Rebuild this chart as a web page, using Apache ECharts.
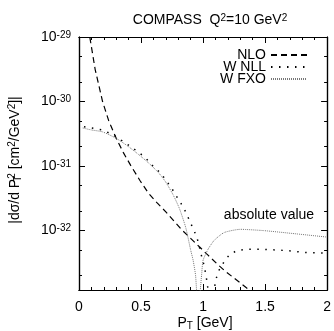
<!DOCTYPE html>
<html><head><meta charset="utf-8">
<script src="https://cdn.jsdelivr.net/npm/echarts@6/dist/echarts.min.js"></script>
<style>html,body{margin:0;padding:0;background:#fff}#c{width:334px;height:331px}</style>
</head><body><div id="c"></div>
<script>
// P_T [GeV]
const nloX = [0.06, 0.087, 0.13, 0.19, 0.24, 0.30, 0.36, 0.42, 0.49, 0.56, 0.63, 0.70, 0.77, 0.83, 0.90, 0.97, 1.04, 1.11, 1.18, 1.26, 1.36, 1.45];
// log10 of |dσ/dP_T^2| in cm^2/GeV^2
const nloLog = [-28.7, -29.0, -29.5, -30.0, -30.3, -30.57, -30.8, -31.0, -31.22, -31.42, -31.57, -31.71, -31.86, -31.99, -32.12, -32.25, -32.38, -32.51, -32.63, -32.75, -32.9, -33.04];

const nllX = [0.04, 0.13, 0.19, 0.28, 0.38, 0.44, 0.51, 0.56, 0.60, 0.66, 0.70, 0.74, 0.78, 0.82, 0.86, 0.89, 0.92, 0.95, 0.97, 0.99, 1.01, 1.03, 1.05, 1.065, 1.08, 1.106, 1.13, 1.17, 1.21, 1.27, 1.34, 1.49, 1.68, 1.83, 2.0];
const nllLog = [-30.39, -30.42, -30.44, -30.52, -30.65, -30.73, -30.83, -30.92, -31.01, -31.11, -31.22, -31.32, -31.45, -31.57, -31.71, -31.84, -31.97, -32.1, -32.25, -32.41, -32.55, -32.77, -33.05, -33.6, -33.0, -32.74, -32.61, -32.48, -32.38, -32.31, -32.29, -32.29, -32.31, -32.34, -32.35];

const fxoX = [0.03, 0.1, 0.19, 0.30, 0.40, 0.48, 0.56, 0.64, 0.70, 0.76, 0.81, 0.86, 0.90, 0.92, 0.94, 0.955, 0.965, 0.975, 0.99, 1.0, 1.04, 1.09, 1.17, 1.30, 1.49, 1.75, 2.0];
const fxoLog = [-30.41, -30.44, -30.47, -30.57, -30.7, -30.82, -30.95, -31.1, -31.25, -31.45, -31.66, -31.95, -32.3, -32.46, -32.7, -33.2, -33.6, -33.0, -32.65, -32.46, -32.29, -32.15, -32.03, -31.98, -32.0, -32.05, -32.1];

const xTicks = [0, 0.5, 1, 1.5, 2];
const xMinor = [0.1, 0.2, 0.3, 0.4, 0.6, 0.7, 0.8, 0.9, 1.1, 1.2, 1.3, 1.4, 1.6, 1.7, 1.8, 1.9];
const yMajorExp = [-32, -31, -30, -29];
const yMinorMant = [2, 5];

const yMinor = [];
[-33, -32, -31, -30].forEach(e => yMinorMant.forEach(m => yMinor.push(e + Math.log10(m))));

function pts(xs, ls) { return xs.map((x, i) => [x, ls[i]]); }

const FONT = 'Liberation Sans';
const chart = echarts.init(document.getElementById('c'), null, {renderer: 'canvas'});

const Y_MIN = -32.92, Y_MAX = -29;
const lineOn = {show: true, onZero: false, lineStyle: {color: '#000', width: 1.2}};
function yAx(pos, vals, len, labels) {
  return {
    type: 'value', min: Y_MIN, max: Y_MAX, position: pos,
    splitLine: {show: false}, minorTick: {show: false},
    axisLine: lineOn,
    axisTick: {show: true, inside: true, length: len, customValues: vals, lineStyle: {color: '#000', width: 1}},
    axisLabel: labels ? {show: true, customValues: vals, margin: 8, color: '#000',
        formatter: v => '{b|10}{s|' + Math.round(v) + '}',
        rich: {b: {fontFamily: FONT, fontSize: 14, color: '#000'},
               s: {fontFamily: FONT, fontSize: 10, color: '#000', verticalAlign: 'top', lineHeight: 10}}}
      : {show: false}
  };
}
function xAx(pos, vals, len, labels) {
  return {
    type: 'value', min: 0, max: 2, interval: 0.5, position: pos,
    splitLine: {show: false}, minorTick: {show: false}, axisLine: lineOn,
    axisTick: {show: true, inside: true, length: len, customValues: vals, lineStyle: {color: '#000', width: 1}},
    axisLabel: labels ? {show: true, customValues: vals, color: '#000', fontSize: 14, fontFamily: FONT, margin: 10,
        formatter: v => String(v)} : {show: false}
  };
}

chart.setOption({
  animation: false,
  backgroundColor: '#fff',
  textStyle: {fontFamily: FONT},
  title: {
    text: 'COMPASS  Q{sup|2}=10 GeV{sup|2}',
    left: 205, top: 8, textAlign: 'center',
    textStyle: {fontFamily: FONT, fontSize: 14, fontWeight: 'normal', color: '#000',
      rich: {sup: {fontFamily: FONT, fontSize: 10, verticalAlign: 'top', lineHeight: 10, color: '#000'}}}
  },
  grid: {left: 79, right: 3, top: 37, bottom: 41, show: false},
  legend: {
    orient: 'vertical', right: 21, top: 43, align: 'right',
    itemWidth: 36, itemHeight: 10, itemGap: -2, itemStyle: {opacity: 0},
    textStyle: {fontFamily: FONT, fontSize: 14, color: '#000'},
    data: ['NLO', 'W NLL', 'W FXO']
  },
  xAxis: [
    xAx('bottom', xTicks, 6, true),
    xAx('bottom', xMinor, 3, false),
    xAx('top', xTicks, 6, false),
    xAx('top', xMinor, 3, false)
  ],
  yAxis: [
    yAx('left', yMajorExp, 6, true),
    yAx('left', yMinor, 3, false),
    yAx('right', yMajorExp, 6, false),
    yAx('right', yMinor, 3, false)
  ],
  series: [
    {name: 'NLO', type: 'line', data: pts(nloX, nloLog), showSymbol: false, symbol: 'none', clip: true,
      lineStyle: {color: '#000', width: 1.2, type: [6, 4]}, itemStyle: {color: '#000'}},
    {name: 'W NLL', type: 'line', data: pts(nllX, nllLog), showSymbol: false, symbol: 'none', clip: true,
      lineStyle: {color: '#000', width: 1.5, type: [1.5, 6.5]}, itemStyle: {color: '#000'}},
    {name: 'W FXO', type: 'line', data: pts(fxoX, fxoLog), showSymbol: false, symbol: 'none', clip: true, smooth: 0.2,
      lineStyle: {color: '#777', width: 1, type: [1, 1]}, itemStyle: {color: '#777'}}
  ],
  graphic: [
    {type: 'text', x: 269, y: 215, style: {text: 'absolute value', fontFamily: FONT, fontSize: 14, fill: '#000', textAlign: 'center', textVerticalAlign: 'middle'}},
    {type: 'text', x: 205, y: 323, style: {text: 'P{sub|T} [GeV]', fontFamily: FONT, fontSize: 14, fill: '#000', textAlign: 'center', textVerticalAlign: 'middle',
      rich: {sub: {fontFamily: FONT, fontSize: 10, verticalAlign: 'bottom', padding: [6, 0, 0, 0]}}}},
    {type: 'text', x: 15, y: 160, rotation: Math.PI / 2, style: {
      text: '|dσ/d P{st|T}{sp|2} [cm{sp|2}/GeV{sp|2}]|', fontFamily: FONT, fontSize: 14, fill: '#000', textAlign: 'center', textVerticalAlign: 'middle',
      rich: {st: {fontFamily: FONT, fontSize: 10, verticalAlign: 'bottom', padding: [6, 0, 0, 0], width: 0},
             sp: {fontFamily: FONT, fontSize: 10, verticalAlign: 'top', lineHeight: 10}}}}
  ]
});
</script></body></html>
